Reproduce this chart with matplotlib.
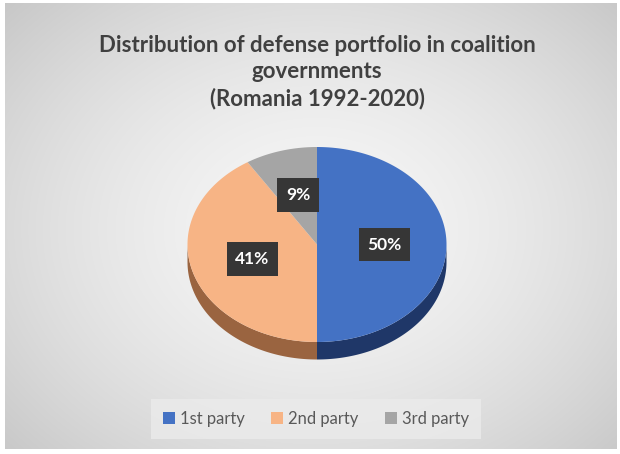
import numpy as np
import matplotlib.pyplot as plt
from matplotlib.patches import Polygon, Patch

# data
parties = ['1st party', '2nd party', '3rd party']
shares = [50, 41, 9]
top_colors = ['#4472C4', '#F7B485', '#A5A5A5']
side_colors = ['#1F3768', '#9A6440', '#6E6E6E']

title = 'Distribution of defense portfolio in coalition\ngovernments\n(Romania 1992-2020)'

W, H = 620, 454
fig = plt.figure(figsize=(W / 100, H / 100), dpi=100)
ax = fig.add_axes([0, 0, 1, 1])
ax.set_xlim(0, W)
ax.set_ylim(H, 0)
ax.axis('off')

# radial grey background like the Excel chart area
yy, xx = np.mgrid[0:H, 0:W]
r = np.sqrt(((xx - 315) / 380.0) ** 2 + ((yy - 230) / 300.0) ** 2)
bg = np.clip(0.965 - 0.15 * r ** 1.6, 0, 1)
ax.imshow(np.dstack([bg, bg, bg]), extent=[5, W - 3, H - 5, 3], zorder=0, aspect='auto')

# pie geometry (screen pixels)
cx, cy = 317, 244.5
a, b = 129.5, 97.5
depth = 17.5


def pt(theta, dy=0.0):
    # theta measured clockwise from 12 o'clock, radians
    return cx + a * np.sin(theta), cy - b * np.cos(theta) + dy


fracs = np.array(shares) / np.sum(shares)
edges = np.concatenate([[0], np.cumsum(fracs)]) * 2 * np.pi

# side walls (only front half, from 3 o'clock to 9 o'clock)
for i in range(len(shares)):
    t0 = max(edges[i], np.pi / 2)
    t1 = min(edges[i + 1], 3 * np.pi / 2)
    if t1 <= t0:
        continue
    t = np.linspace(t0, t1, 100)
    xs, ys = pt(t)
    poly = np.vstack([np.column_stack([xs, ys]),
                      np.column_stack([xs[::-1], ys[::-1] + depth])])
    ax.add_patch(Polygon(poly, closed=True, fc=side_colors[i], ec='none', zorder=2))

# top faces
for i in range(len(shares)):
    t = np.linspace(edges[i], edges[i + 1], 200)
    xs, ys = pt(t)
    poly = np.vstack([[cx, cy], np.column_stack([xs, ys])])
    ax.add_patch(Polygon(poly, closed=True, fc=top_colors[i], ec='none', zorder=3))

# data labels
for i in range(len(shares)):
    mid = (edges[i] + edges[i + 1]) / 2
    lx = cx + 0.52 * a * np.sin(mid)
    ly = cy - 0.53 * b * np.cos(mid)
    ax.text(lx, ly, f'{shares[i]}%', color='white', fontsize=12.5, fontweight='bold',
            family='Lato', ha='center', va='center', zorder=5,
            bbox=dict(boxstyle='square,pad=0.5', fc='#363636', ec='none'))

ax.text(317, 72, title, ha='center', va='center', fontsize=16, fontweight='bold',
        family='Lato', color='#404040', linespacing=1.3, zorder=5)

handles = [Patch(fc=c, ec='none') for c in top_colors]
leg = ax.legend(handles, parties, loc='center', bbox_to_anchor=(316 / W, 1 - 419 / H),
                ncol=3, frameon=True, fancybox=False,
                handlelength=0.7, handleheight=0.7, handletextpad=0.3,
                columnspacing=1.6, borderpad=0.7, prop={'family': 'Lato', 'size': 12})
leg.get_frame().set_facecolor('#EBEBEB')
leg.get_frame().set_edgecolor('none')
for t in leg.get_texts():
    t.set_color('#595959')

fig.savefig('out.png', dpi=100, facecolor='white')
